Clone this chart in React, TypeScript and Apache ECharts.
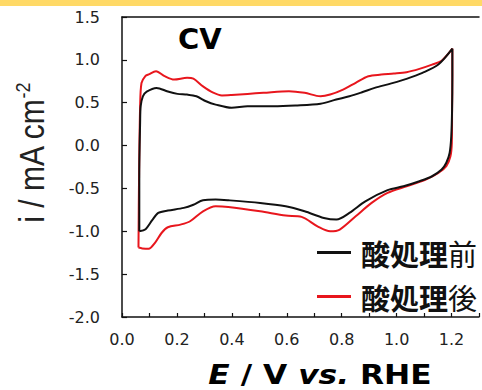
import React, { useEffect, useRef } from "react";
import * as echarts from "echarts";

const seriesNames = ["酸処理前", "酸処理後"];

const beforeCV: [number, number][] = [
  [0.063, -1.0], [0.063, -0.32], [0.066, 0.27], [0.068, 0.46], [0.076, 0.575], [0.09, 0.63],
  [0.126, 0.673], [0.167, 0.63], [0.202, 0.603], [0.237, 0.595], [0.271, 0.575], [0.306, 0.517],
  [0.341, 0.478], [0.399, 0.44], [0.457, 0.459], [0.55, 0.459], [0.631, 0.467], [0.723, 0.487],
  [0.78, 0.537], [0.828, 0.575], [0.874, 0.622], [0.92, 0.673], [0.978, 0.723], [1.036, 0.778],
  [1.094, 0.848], [1.152, 0.945], [1.203, 1.13],
  [1.203, 0.81], [1.202, 0.42], [1.199, 0.109], [1.193, -0.086], [1.181, -0.2], [1.164, -0.28],
  [1.129, -0.358], [1.083, -0.416], [1.025, -0.475], [0.967, -0.52], [0.886, -0.65], [0.828, -0.786],
  [0.781, -0.863], [0.735, -0.844], [0.665, -0.767], [0.596, -0.708], [0.503, -0.669], [0.387, -0.638],
  [0.341, -0.63], [0.295, -0.638], [0.26, -0.69], [0.225, -0.727], [0.167, -0.758], [0.132, -0.786],
  [0.11, -0.87], [0.086, -0.975], [0.063, -1.0],
];

const afterCV: [number, number][] = [
  [0.06, -1.19], [0.062, -0.4], [0.066, 0.46], [0.071, 0.73], [0.085, 0.81], [0.097, 0.83],
  [0.124, 0.867], [0.155, 0.81], [0.19, 0.77], [0.237, 0.79], [0.26, 0.78], [0.295, 0.69],
  [0.33, 0.62], [0.364, 0.585], [0.399, 0.59], [0.457, 0.603], [0.515, 0.615], [0.608, 0.634],
  [0.665, 0.615], [0.723, 0.575], [0.758, 0.595], [0.805, 0.653], [0.851, 0.732], [0.897, 0.809],
  [0.944, 0.828], [0.99, 0.84], [1.036, 0.856], [1.083, 0.895], [1.129, 0.945], [1.164, 0.99],
  [1.203, 1.13],
  [1.203, 0.8], [1.202, 0.42], [1.201, 0.03], [1.196, -0.125], [1.181, -0.24], [1.152, -0.32],
  [1.106, -0.397], [1.036, -0.475], [0.967, -0.552], [0.909, -0.669], [0.851, -0.825], [0.793, -0.98],
  [0.758, -1.0], [0.712, -0.942], [0.654, -0.832], [0.596, -0.817], [0.503, -0.767], [0.387, -0.716],
  [0.341, -0.708], [0.295, -0.767], [0.248, -0.883], [0.213, -0.922], [0.167, -0.953], [0.144, -1.02],
  [0.12, -1.135], [0.097, -1.205], [0.074, -1.2], [0.06, -1.19],
];

const colors = ["#111111", "#e8161d"];

export default function App() {
  const ref = useRef<HTMLDivElement>(null);
  useEffect(() => {
    document.body.style.margin = "0";
    const chart = echarts.init(ref.current!, undefined, { renderer: "svg" });
    const axisLine = { show: true, onZero: false, lineStyle: { color: "#111", width: 1.5 } };
    chart.setOption({
      animation: false,
      backgroundColor: "#ffffff",
      grid: { left: 122, right: -14, top: 17, bottom: 73 },
      xAxis: [
        {
          type: "value", min: 0, max: 1.3, interval: 0.1,
          axisLine, splitLine: { show: false },
          axisTick: { show: true, inside: true, length: 4, lineStyle: { color: "#111", width: 1.2 } },
          axisLabel: {
            margin: 14, fontFamily: "DejaVu Sans", fontSize: 16, color: "#222",
            formatter: (v: number) => {
              const k = Math.round(v * 10);
              return k % 2 === 0 && k <= 12 ? v.toFixed(1) : "";
            },
          },
        },
        {
          type: "value", min: 0, max: 1.3, position: "top",
          axisLine, axisTick: { show: false }, axisLabel: { show: false }, splitLine: { show: false },
        },
      ],
      yAxis: {
        type: "value", min: -2, max: 1.5, interval: 0.5,
        axisLine, splitLine: { show: false },
        axisTick: { show: true, inside: true, length: 5, lineStyle: { color: "#111", width: 1.2 } },
        axisLabel: {
          margin: 22, fontFamily: "DejaVu Sans", fontSize: 16, color: "#222",
          formatter: (v: number) => v.toFixed(1),
        },
      },
      legend: {
        data: seriesNames,
        orient: "vertical", left: 312, top: 233, itemWidth: 34, itemHeight: 3,
        icon: "rect", itemGap: 15, selectedMode: false,
        formatter: (name: string) => `{b|${name.slice(0, 3)}}{n|${name.slice(3)}}`,
        textStyle: {
          color: "#111",
          rich: {
            b: { fontFamily: "Noto Sans CJK JP", fontSize: 29, fontWeight: "bold", color: "#111", padding: [0, 0, 0, 5] },
            n: { fontFamily: "Noto Sans CJK JP", fontSize: 29, fontWeight: "normal", color: "#111" },
          },
        },
      },
      graphic: [
        { type: "rect", left: 0, top: 0, shape: { width: 482, height: 6 }, style: { fill: "#FFD966" } },
        {
          type: "text", x: 178, y: 39,
          style: { text: "CV", font: 'bold 29px "DejaVu Sans"', fill: "#000", verticalAlign: "middle" },
        },
        {
          type: "text", x: 320, y: 375, scaleX: 1.16,
          style: {
            text: "{i|E} / V {i|vs.} RHE",
            align: "center", verticalAlign: "middle",
            font: 'bold 27px "DejaVu Sans"', fill: "#000",
            rich: { i: { fontFamily: "DejaVu Sans", fontSize: 27, fontWeight: "bold", fontStyle: "italic", fill: "#000" } } as any,
          },
        },
        {
          type: "text", x: 32, y: 153, rotation: Math.PI / 2, scaleY: 1.15,
          style: {
            text: "{a|i / mA cm}{s|-2}",
            align: "center", verticalAlign: "middle",
            rich: {
              a: { fontFamily: "Liberation Sans", fontSize: 30, fill: "#222", lineHeight: 34 },
              s: { fontFamily: "Liberation Sans", fontSize: 18, fill: "#222", verticalAlign: "top", lineHeight: 34, padding: [0, 0, 14, 0] },
            } as any,
          },
        },
      ],
      series: [
        {
          name: seriesNames[0], type: "line", data: beforeCV, showSymbol: false, smooth: 0.3, z: 3,
          lineStyle: { color: colors[0], width: 2 }, itemStyle: { color: colors[0] },
        },
        {
          name: seriesNames[1], type: "line", data: afterCV, showSymbol: false, smooth: 0.3, z: 2,
          lineStyle: { color: colors[1], width: 2 }, itemStyle: { color: colors[1] },
        },
      ],
    });
    return () => chart.dispose();
  }, []);
  return <div ref={ref} style={{ position: "absolute", left: 0, top: 0, width: 482, height: 390 }} />;
}
